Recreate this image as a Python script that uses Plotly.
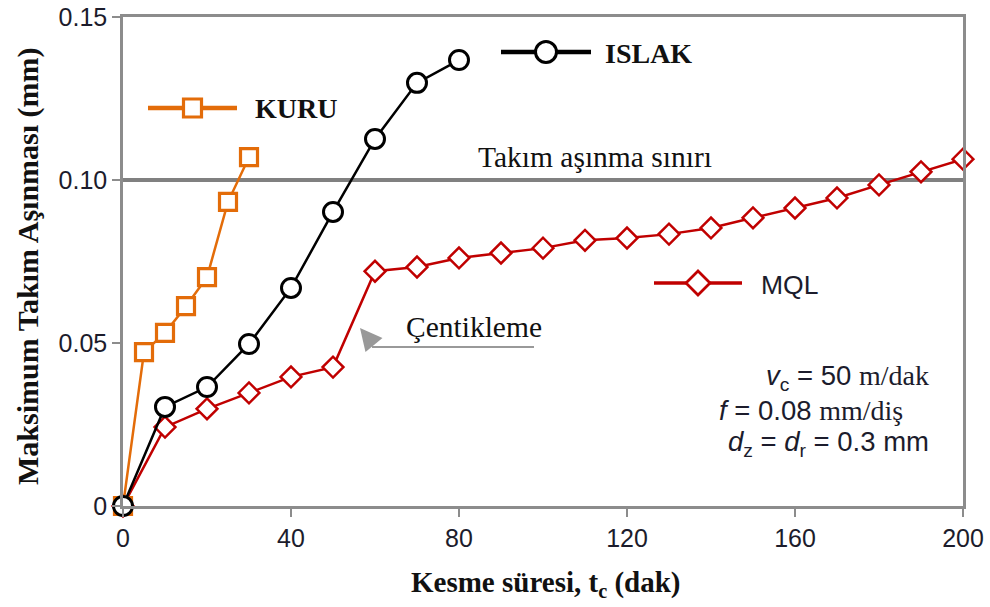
import plotly.graph_objects as go

# ---- data ----
t_kuru = [0, 5, 10, 15, 20, 25, 30]
w_kuru = [0, 0.0472, 0.0531, 0.0613, 0.0702, 0.0933, 0.1070]

t_islak = [0, 10, 20, 30, 40, 50, 60, 70, 80]
w_islak = [0, 0.0304, 0.0365, 0.0497, 0.0669, 0.0902, 0.1126, 0.1298, 0.1368]

t_mql = [0, 10, 20, 30, 40, 50, 60, 70, 80, 90, 100, 110, 120, 130, 140, 150, 160, 170, 180, 190, 200]
w_mql = [0, 0.0242, 0.0298, 0.0347, 0.0396, 0.0426, 0.0720, 0.0733, 0.0761, 0.0776, 0.0791,
         0.0815, 0.0822, 0.0834, 0.0853, 0.0884, 0.0914, 0.0945, 0.0985, 0.1025, 0.1064]

wear_limit = 0.10

x_ticks = [0, 40, 80, 120, 160, 200]
x_ticktext = ["0", "40", "80", "120", "160", "200"]
y_ticks = [0, 0.05, 0.10, 0.15]
y_ticktext = ["0", "0.05", "0.10", "0.15"]

# ---- styles ----
ORANGE = "#E36C09"
RED = "#C00000"
BLACK = "#000000"
GRAY = "#8c8c8c"
SERIF = "Liberation Serif"
SANS = "Liberation Sans"
TXT = "#1c1c2c"

W, H = 990, 607
ML, MR, MT, MB = 123, 27, 17, 101
PW, PH = W - ML - MR, H - MT - MB


def px(x):
    return (x - ML) / PW


def py(y):
    return (H - MB - y) / PH


fig = go.Figure()

fig.add_trace(go.Scatter(
    x=t_mql, y=w_mql, mode="lines+markers", name="MQL",
    line=dict(color=RED, width=2.5),
    marker=dict(symbol="diamond", size=16, color="white", line=dict(color=RED, width=2.5)),
    cliponaxis=False))
fig.add_trace(go.Scatter(
    x=t_kuru, y=w_kuru, mode="lines+markers", name="KURU",
    line=dict(color=ORANGE, width=2.5),
    marker=dict(symbol="square", size=17, color="white", line=dict(color=ORANGE, width=3.2)),
    cliponaxis=False))
fig.add_trace(go.Scatter(
    x=t_islak, y=w_islak, mode="lines+markers", name="ISLAK",
    line=dict(color=BLACK, width=2.5),
    marker=dict(symbol="circle", size=19, color="white", line=dict(color=BLACK, width=3)),
    cliponaxis=False))

shapes = []
# wear limit line
shapes.append(dict(type="line", xref="x", yref="y", x0=0, x1=200, y0=wear_limit, y1=wear_limit,
                   line=dict(color="#808080", width=4), layer="below"))
# arrow horizontal part
shapes.append(dict(type="line", xref="paper", yref="paper", x0=px(372), x1=px(534), y0=py(347), y1=py(347),
                   line=dict(color="#999999", width=2), layer="above"))


def legend_key(xl, xr, yc, color, lw, symbol, size, mlw):
    shapes.append(dict(type="line", xref="paper", yref="paper", x0=px(xl), x1=px(xr), y0=py(yc), y1=py(yc),
                       line=dict(color=color, width=lw), layer="above"))
    xm = (xl + xr) / 2
    h = size / 2
    common = dict(xref="paper", yref="paper", xsizemode="pixel", ysizemode="pixel",
                  xanchor=px(xm), yanchor=py(yc), fillcolor="white",
                  line=dict(color=color, width=mlw), layer="above")
    if symbol == "square":
        shapes.append(dict(type="rect", x0=-h, x1=h, y0=-h, y1=h, **common))
    elif symbol == "circle":
        shapes.append(dict(type="circle", x0=-h, x1=h, y0=-h, y1=h, **common))
    else:
        shapes.append(dict(type="path", path=f"M{-h},0 L0,{h} L{h},0 L0,{-h} Z", **common))


legend_key(148, 237, 108, ORANGE, 4.5, "square", 18, 3.2)
legend_key(501, 591, 52, BLACK, 4.5, "circle", 21, 3)
legend_key(654, 742, 283, RED, 3.5, "diamond", 24, 2.8)

SER28 = f"font-family:{SERIF};font-size:28px"

annotations = [
    dict(text="<b>KURU</b>", x=px(253), y=py(108), xref="paper", yref="paper", xanchor="left", yanchor="middle",
         showarrow=False, font=dict(family=SERIF, size=28, color="#111")),
    dict(text="<b>ISLAK</b>", x=px(603), y=py(53), xref="paper", yref="paper", xanchor="left", yanchor="middle",
         showarrow=False, font=dict(family=SERIF, size=28, color="#111")),
    dict(text="MQL", x=px(759), y=py(285), xref="paper", yref="paper", xanchor="left", yanchor="middle",
         showarrow=False, font=dict(family=SANS, size=26.5, color=TXT)),
    dict(text="Takım aşınma sınırı", x=px(595), y=py(157), xref="paper", yref="paper", xanchor="center",
         yanchor="middle", showarrow=False, font=dict(family=SERIF, size=29.5, color="#111")),
    dict(text="Çentikleme", x=px(404), y=py(327), xref="paper", yref="paper", xanchor="left",
         yanchor="middle", showarrow=False, font=dict(family=SERIF, size=29.5, color="#111")),
    dict(text=" ", x=px(360), y=py(328), xref="paper", yref="paper", showarrow=True, ax=14, ay=17,
         arrowhead=2, arrowsize=2.2, arrowwidth=2, arrowcolor="#999999", font=dict(size=1)),
    dict(text=f"<i>v</i><sub>c</sub> = 50 <span style='{SER28}'>m/dak</span>",
         x=px(764), y=py(377), xref="paper", yref="paper", xanchor="left", yanchor="middle",
         showarrow=False, font=dict(family=SANS, size=27.5, color=TXT)),
    dict(text=f"<i>f</i> = 0.08 <span style='{SER28}'>mm/diş</span>",
         x=px(717), y=py(410), xref="paper", yref="paper", xanchor="left", yanchor="middle",
         showarrow=False, font=dict(family=SANS, size=27.5, color=TXT)),
    dict(text="<i>d</i><sub>z</sub> = <i>d</i><sub>r</sub> = 0.3 mm",
         x=px(726), y=py(443), xref="paper", yref="paper", xanchor="left", yanchor="middle",
         showarrow=False, font=dict(family=SANS, size=27.5, color=TXT)),
    dict(text="<b>Kesme süresi, t<sub>c</sub> (dak)</b>", x=px(545), y=py(584), xref="paper", yref="paper",
         xanchor="center", yanchor="middle", showarrow=False, font=dict(family=SERIF, size=29, color="#111")),
    dict(text="<b>Maksimum Takım Aşınması (mm)</b>", x=px(28), y=py(266), xref="paper", yref="paper",
         xanchor="center", yanchor="middle", textangle=-90, showarrow=False,
         font=dict(family=SERIF, size=30, color="#111")),
]

axis_common = dict(showgrid=False, zeroline=False, automargin=False,
                   showline=True, linecolor=GRAY, linewidth=2.5, mirror=True,
                   ticks="outside", ticklen=8, tickwidth=2, tickcolor=GRAY,
                   tickfont=dict(family=SANS, size=25, color=TXT))

fig.update_layout(
    width=W, height=H,
    margin=dict(l=ML, r=MR, t=MT, b=MB, pad=0, autoexpand=False),
    paper_bgcolor="white", plot_bgcolor="white",
    showlegend=False,
    shapes=shapes, annotations=annotations,
    xaxis=dict(range=[0, 200], tickvals=x_ticks, ticktext=x_ticktext, **axis_common),
    yaxis=dict(range=[0, 0.15], tickvals=y_ticks, ticktext=y_ticktext, **axis_common),
)

fig.write_html("out.html")
